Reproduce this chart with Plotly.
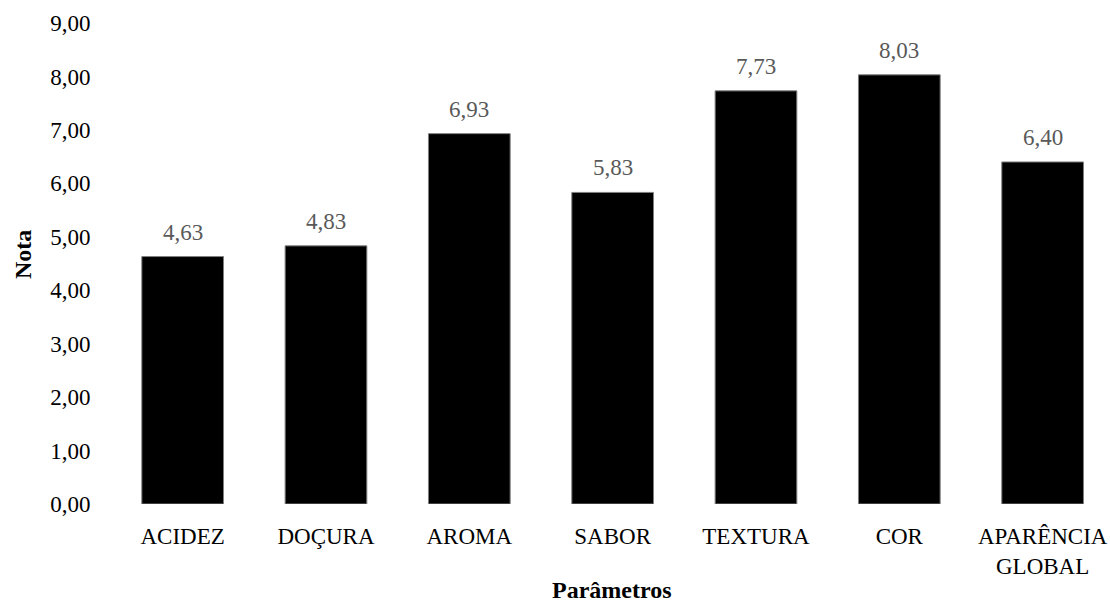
import plotly.graph_objects as go

parametros = ["ACIDEZ", "DOÇURA", "AROMA", "SABOR", "TEXTURA", "COR", "APARÊNCIA<br>GLOBAL"]
notas = [4.63, 4.83, 6.93, 5.83, 7.73, 8.03, 6.40]
y_ticks = [0, 1, 2, 3, 4, 5, 6, 7, 8, 9]
y_tick_labels = [f"{v:.2f}".replace(".", ",") for v in y_ticks]
rotulos = [f"{v:.2f}".replace(".", ",") for v in notas]

FONT = "Liberation Serif"
W, H = 1110, 602
ML, MR, MT, MB = 111, 0, 23, 98
posicoes = list(range(len(parametros)))

fig = go.Figure(
    go.Bar(
        x=posicoes,
        y=notas,
        width=0.57,
        marker=dict(color="black", line=dict(color="#7f7f7f", width=1)),
        hoverinfo="skip",
    )
)

# value labels above each bar
for xp, v, txt in zip(posicoes, notas, rotulos):
    fig.add_annotation(
        x=xp, y=v, text=txt, showarrow=False,
        xref="x", yref="y", yanchor="bottom", yshift=10,
        font=dict(family=FONT, size=23, color="#595959"),
    )

plot_w = W - ML - MR
plot_h = H - MT - MB

# axis titles, placed in pixel terms relative to the plot area
fig.add_annotation(
    x=(612 - ML) / plot_w, y=-(590 - (H - MB)) / plot_h,
    xref="paper", yref="paper", text="<b>Parâmetros</b>",
    showarrow=False, xanchor="center", yanchor="middle",
    font=dict(family=FONT, size=24, color="black"),
)
fig.add_annotation(
    x=-(ML - 23) / plot_w, y=((H - MB) - 255) / plot_h,
    xref="paper", yref="paper", text="<b>Nota</b>", textangle=-90,
    showarrow=False, xanchor="center", yanchor="middle",
    font=dict(family=FONT, size=24, color="black"),
)

fig.update_layout(
    width=W,
    height=H,
    margin=dict(l=ML, r=MR, t=MT, b=MB),
    paper_bgcolor="white",
    plot_bgcolor="white",
    font=dict(family=FONT, size=23, color="black"),
    showlegend=False,
)

fig.update_xaxes(
    tickmode="array",
    tickvals=posicoes,
    ticktext=parametros,
    range=[-0.5, 6.47],
    showgrid=False,
    zeroline=False,
    showline=False,
    ticks="outside",
    ticklen=11,
    tickcolor="white",
)

fig.update_yaxes(
    range=[0, 9],
    tickmode="array",
    tickvals=y_ticks,
    ticktext=y_tick_labels,
    showgrid=False,
    zeroline=False,
    showline=False,
    ticks="outside",
    ticklen=15,
    tickcolor="white",
)

fig.write_html("out.html")
